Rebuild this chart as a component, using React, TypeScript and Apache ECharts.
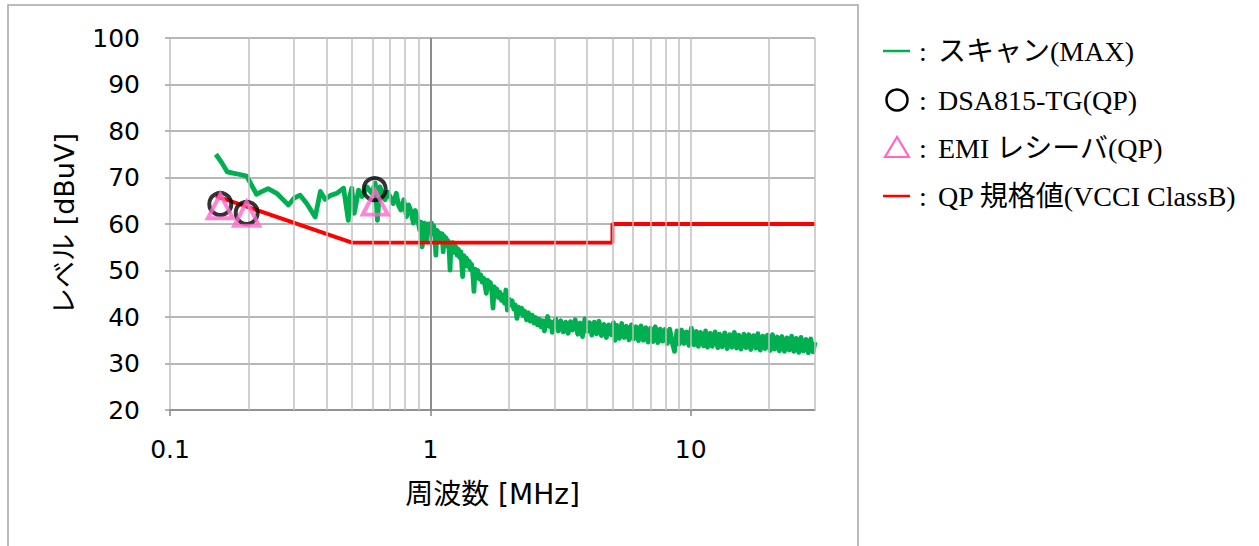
import React, { useEffect, useRef } from "react";
import * as echarts from "echarts";

// Scan trace (MAX) — frequency [MHz] and level [dBuV]
const scanFreq = [
  0.150, 0.158, 0.166, 0.180, 0.197, 0.215, 0.226, 0.238, 0.257, 0.270,
  0.285, 0.300, 0.316, 0.335, 0.361, 0.378, 0.394, 0.412, 0.437, 0.464,
  0.484, 0.490, 0.499, 0.510, 0.530, 0.546, 0.570, 0.595, 0.614, 0.626,
  0.640, 0.655, 0.670, 0.685, 0.700, 0.720, 0.740, 0.755, 0.770, 0.790,
  0.810, 0.825, 0.840, 0.860, 0.875, 0.890, 0.910, 0.920, 0.930, 0.950,
  0.970, 0.985,
  1.000, 1.010, 1.020, 1.030, 1.040, 1.050, 1.060, 1.070, 1.080, 1.090,
  1.100, 1.110, 1.120, 1.130, 1.140, 1.150, 1.160, 1.170, 1.180, 1.190,
  1.200, 1.210, 1.220, 1.235, 1.250, 1.265, 1.280, 1.295, 1.310, 1.330,
  1.345, 1.360, 1.375, 1.390, 1.410, 1.425, 1.440, 1.455, 1.470, 1.485,
  1.500, 1.520, 1.540, 1.560, 1.580, 1.600, 1.620, 1.640, 1.660, 1.680,
  1.700, 1.720, 1.740, 1.760, 1.780, 1.800, 1.825, 1.850, 1.875, 1.900,
  1.925, 1.950, 1.975, 2.000, 2.030, 2.060, 2.090, 2.120, 2.150, 2.180,
  2.210, 2.240, 2.270, 2.300, 2.340, 2.380, 2.420, 2.460, 2.500, 2.540,
  2.580, 2.620, 2.660, 2.700, 2.740, 2.780, 2.820, 2.860, 2.900, 2.940,
  2.980,
  3.03, 3.10, 3.17, 3.24, 3.31, 3.38, 3.45, 3.52, 3.60, 3.68,
  3.76, 3.84, 3.92, 4.00, 4.08, 4.17, 4.26, 4.35, 4.44, 4.54,
  4.64, 4.74, 4.84, 4.95, 5.05, 5.12, 5.20, 5.32, 5.43, 5.55,
  5.67, 5.79, 5.92, 6.04, 6.17, 6.30, 6.44, 6.58, 6.72, 6.86,
  7.01, 7.16, 7.31, 7.47, 7.63, 7.79, 7.96, 8.13, 8.30, 8.48,
  8.66, 8.85, 9.04, 9.23, 9.43, 9.63, 9.84, 10.05, 10.3, 10.5,
  10.7, 10.9, 11.2, 11.4, 11.6, 11.9, 12.1, 12.4, 12.7, 12.9,
  13.2, 13.5, 13.8, 14.1, 14.4, 14.7, 15.0, 15.3, 15.6, 16.0,
  16.3, 16.7, 17.0, 17.4, 17.8, 18.1, 18.5, 18.9, 19.3, 19.7,
  20.2, 20.6, 21.0, 21.5, 21.9, 22.4, 22.9, 23.4, 23.9, 24.4,
  24.9, 25.4, 26.0, 26.5, 27.1, 27.7, 28.3, 28.9, 29.5, 30.0,
];
const scanLevel = [
  75.0, 73.2, 71.2, 70.8, 70.3, 66.4, 67.0, 67.6, 66.6, 65.4,
  64.1, 65.6, 66.2, 64.4, 61.5, 67.0, 65.3, 66.1, 66.6, 67.7,
  60.8, 65.9, 67.7, 62.3, 67.3, 65.9, 68.0, 66.6, 68.8, 60.8,
  68.0, 66.4, 65.2, 66.9, 65.9, 64.4, 66.6, 64.0, 63.0, 65.2,
  61.6, 64.1, 63.0, 60.2, 62.9, 61.6, 58.7, 60.4, 55.1, 60.2,
  56.6, 60.0,
  59.4, 60.2, 57.9, 59.6, 57.6, 53.3, 58.6, 58.3, 56.4, 58.0,
  56.8, 57.9, 54.0, 57.4, 56.2, 57.0, 55.2, 56.4, 54.7, 50.1,
  55.9, 55.0, 56.0, 53.9, 55.2, 53.3, 54.6, 52.8, 54.0, 48.7,
  53.2, 51.8, 52.7, 50.9, 52.0, 50.2, 51.3, 49.4, 45.5, 50.3,
  49.0, 50.0, 48.2, 49.1, 47.5, 48.4, 46.8, 45.1, 47.9, 46.6,
  47.4, 45.7, 41.9, 46.5, 45.1, 46.0, 44.2, 45.3, 43.6, 44.7,
  43.0, 45.8, 41.5, 43.9, 42.6, 43.5, 41.7, 42.6, 39.7, 42.1,
  40.8, 41.9, 40.3, 41.3, 39.4, 40.9, 39.1, 40.4, 38.7, 39.9,
  38.3, 39.5, 37.9, 39.2, 37.0, 38.8, 40.1, 38.0, 39.0, 36.7,
  38.6,
  39.6, 37.0, 39.2, 36.8, 38.9, 36.5, 39.0, 37.2, 39.4, 36.3,
  38.7, 35.8, 39.6, 36.9, 38.8, 36.1, 38.9, 36.4, 39.1, 36.0,
  38.4, 35.6, 38.3, 36.2, 38.8, 35.0, 38.2, 35.4, 38.6, 35.6,
  38.0, 35.1, 38.3, 35.3, 37.9, 34.9, 38.1, 35.0, 37.7, 34.6,
  37.6, 34.7, 37.9, 34.5, 37.4, 34.8, 37.3, 34.3, 37.4, 34.6,
  32.6, 37.0, 34.2, 37.2, 34.3, 36.8, 33.9, 37.6, 34.0, 36.9,
  33.7, 36.7, 33.8, 37.0, 33.5, 36.5, 33.7, 36.8, 33.4, 36.3,
  33.6, 36.6, 33.2, 36.2, 33.5, 36.7, 33.3, 36.1, 33.1, 36.3,
  33.4, 36.2, 33.0, 36.0, 33.3, 36.4, 32.9, 35.9, 33.2, 36.1,
  32.8, 36.2, 33.1, 35.7, 32.7, 35.8, 32.6, 35.5, 32.9, 35.9,
  32.6, 35.4, 32.4, 35.6, 32.7, 35.2, 32.3, 35.3, 32.5, 34.6,
];

// QP limit (VCCI Class B)
const limitFreq = [0.15, 0.5, 5, 5, 30];
const limitLevel = [66, 56, 56, 60, 60];

// DSA815-TG (QP) points
const dsaFreq = [0.156, 0.197, 0.611];
const dsaLevel = [64.3, 62.4, 67.5];

// EMI receiver (QP) points
const emiFreq = [0.156, 0.197, 0.614];
const emiLevel = [63.8, 62.2, 64.6];

// Axis ticks / grid
const xTickValues = [0.1, 1, 10];
const minorGridFreq = [0.2, 0.3, 0.4, 0.5, 0.6, 0.7, 0.8, 0.9, 2, 3, 4, 5, 6, 7, 8, 9, 10, 20, 30];
const majorGridFreq = [1];

// Legend labels
const legendLabels = ["スキャン(MAX)", "DSA815-TG(QP)", "EMI レシーバ(QP)", "QP 規格値(VCCI ClassB)"];

const zip = (a: number[], b: number[]) => a.map((v, i) => [v, b[i]]);

export default function App() {
  const ref = useRef<HTMLDivElement>(null);
  useEffect(() => {
    if (!ref.current) return;
    const chart = echarts.init(ref.current, null, { renderer: "svg" });
    const sansCJK = "DejaVu Sans, Noto Sans CJK JP";
    const serif = "Liberation Serif, Noto Sans CJK JP";
    const rowY = [51, 100, 148, 196];
    const legendText = legendLabels.map((t, i) => ({
      type: "text",
      x: 938,
      y: rowY[i],
      style: { text: t, font: `28px ${serif}`, fill: "#000", verticalAlign: "middle", align: "left" },
    }));
    const colons = rowY.map((y) => ({
      type: "text",
      x: 919,
      y,
      style: { text: ":", font: `28px ${serif}`, fill: "#000", verticalAlign: "middle", align: "left" },
    }));
    chart.setOption({
      animation: false,
      grid: { left: 170, right: 444, top: 38, bottom: 136 },
      xAxis: {
        type: "log",
        logBase: 10,
        min: 0.1,
        max: 30,
        name: "周波数 [MHz]",
        nameLocation: "middle",
        nameGap: 70,
        nameTextStyle: { fontSize: 28, color: "#000", fontFamily: sansCJK },
        axisLine: { show: true, lineStyle: { color: "#868686", width: 1.5 } },
        axisTick: { show: true, length: 6, customValues: xTickValues, lineStyle: { color: "#868686", width: 1.5 } },
        axisLabel: {
          customValues: xTickValues,
          margin: 27,
          fontSize: 25,
          color: "#000",
          fontFamily: "DejaVu Sans",
          formatter: (v: number) => String(v),
        },
        splitLine: { show: false },
        minorTick: { show: false },
        minorSplitLine: { show: false },
      },
      yAxis: {
        type: "value",
        min: 20,
        max: 100,
        interval: 10,
        name: "レベル [dBuV]",
        nameLocation: "middle",
        nameRotate: 90,
        nameGap: 92,
        nameTextStyle: { fontSize: 27, color: "#000", fontFamily: sansCJK },
        axisLine: { show: true, lineStyle: { color: "#BFBFBF", width: 1.5 } },
        axisTick: { show: true, length: 5, lineStyle: { color: "#9F9F9F", width: 1.5 } },
        axisLabel: { margin: 30, fontSize: 25, color: "#000", fontFamily: "DejaVu Sans" },
        splitLine: { show: true, lineStyle: { color: "#9F9F9F", width: 1.5 } },
      },
      graphic: [
        {
          type: "rect",
          shape: { x: 8, y: 5, width: 850, height: 600 },
          style: { fill: "none", stroke: "#A6A6A6", lineWidth: 1.5 },
          silent: true,
        },
        { type: "line", shape: { x1: 883, y1: rowY[0], x2: 910, y2: rowY[0] }, style: { stroke: "#00B050", lineWidth: 2.5 } },
        { type: "circle", shape: { cx: 897, cy: rowY[1], r: 10.5 }, style: { fill: "none", stroke: "#000", lineWidth: 2.5 } },
        {
          type: "polygon",
          shape: { points: [[897, rowY[2] - 11], [885, rowY[2] + 9], [909, rowY[2] + 9]] },
          style: { fill: "none", stroke: "#FF66CC", lineWidth: 2.2 },
        },
        { type: "line", shape: { x1: 883, y1: rowY[3], x2: 910, y2: rowY[3] }, style: { stroke: "#FF0000", lineWidth: 2.5 } },
        ...colons,
        ...legendText,
      ],
      series: [
        {
          name: "grid",
          type: "line",
          data: [],
          z: 1,
          silent: true,
          markLine: {
            silent: true,
            symbol: ["none", "none"],
            label: { show: false },
            data: [
              ...minorGridFreq.map((f) => ({ xAxis: f, lineStyle: { color: "#C0C0C0", width: 1.5, type: "solid" } })),
              ...majorGridFreq.map((f) => ({ xAxis: f, lineStyle: { color: "#8C8C8C", width: 2, type: "solid" } })),
            ],
          },
        },
        {
          name: "スキャン(MAX)",
          type: "line",
          data: zip(scanFreq, scanLevel),
          showSymbol: false,
          symbol: "none",
          lineStyle: { color: "#00B050", width: 4.8, join: "round" },
          z: 3,
        },
        {
          name: "QP 規格値(VCCI ClassB)",
          type: "line",
          data: zip(limitFreq, limitLevel),
          showSymbol: false,
          symbol: "none",
          lineStyle: { color: "#FF0000", width: 3.8 },
          z: 4,
        },
        {
          name: "DSA815-TG(QP)",
          type: "scatter",
          data: zip(dsaFreq, dsaLevel),
          symbol: "circle",
          symbolSize: 22,
          itemStyle: { color: "transparent", borderColor: "#000", borderWidth: 4 },
          z: 5,
        },
        {
          name: "EMI レシーバ(QP)",
          type: "scatter",
          data: zip(emiFreq, emiLevel),
          symbol: "triangle",
          symbolSize: [25, 24],
          itemStyle: { color: "transparent", borderColor: "#FF66CC", borderWidth: 4 },
          z: 6,
        },
      ],
    });
    return () => chart.dispose();
  }, []);
  return <div ref={ref} style={{ position: "absolute", left: 0, top: 0, width: 1259, height: 546 }} />;
}
